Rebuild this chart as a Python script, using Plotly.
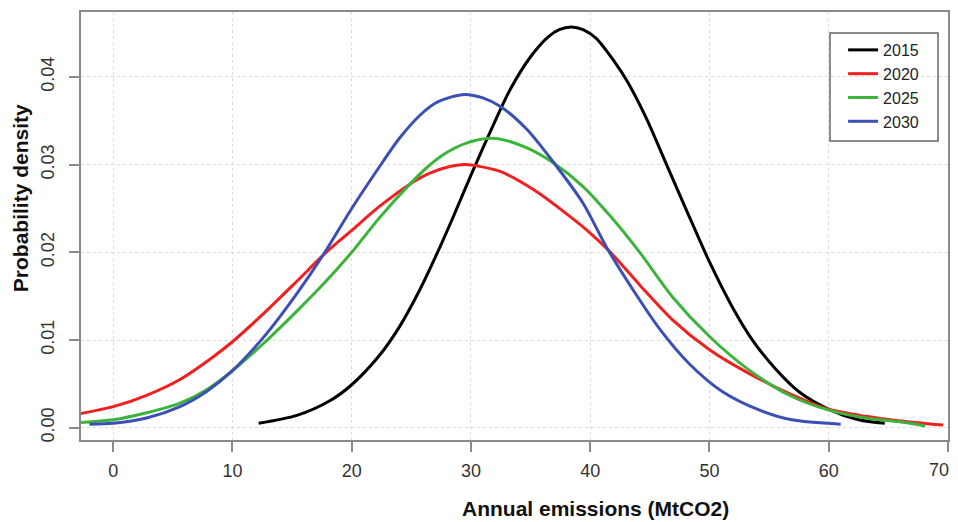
import plotly.graph_objects as go

# ---- data ----
years = ["2015", "2020", "2025", "2030"]
colors = ["#000000", "#f02020", "#3cb43c", "#3b4fb4"]

x_2015 = [12.2, 15.4, 18.2, 20, 22.3, 24, 25.7, 27.1, 28.5, 30, 31.7, 33.3, 35, 36.5, 37.4, 38.4,
          39.4, 40.5, 42, 43.1, 44.7, 46.4, 48.1, 50, 51.9, 53.6, 55.6, 57.5, 60, 62.5, 64.7]
y_2015 = [0.0005, 0.0014, 0.0031, 0.0049, 0.0082, 0.0115, 0.0157, 0.0197, 0.0240, 0.0288, 0.0340,
          0.0386, 0.0423, 0.0446, 0.0454, 0.0457, 0.0454, 0.0444, 0.0418, 0.0395, 0.0353, 0.0300,
          0.0247, 0.0189, 0.0138, 0.0100, 0.0066, 0.0041, 0.0021, 0.0009, 0.0005]

x_2020 = [-2.8, 0, 2.8, 5.6, 8.4, 10, 12.6, 15.4, 17.7, 20, 22.3, 24.9, 26.5, 28, 29.5, 30.7, 32.5,
          35.3, 38.1, 40, 41.7, 44.2, 46.9, 50, 53.3, 56.7, 60, 63.1, 65.8, 69.6]
y_2020 = [0.0016, 0.0024, 0.0037, 0.0055, 0.0081, 0.0098, 0.0130, 0.0167, 0.0198, 0.0225, 0.0252,
          0.0278, 0.0290, 0.0297, 0.0300, 0.0298, 0.0292, 0.0271, 0.0243, 0.0222, 0.0200, 0.0162,
          0.0123, 0.0089, 0.0062, 0.0039, 0.0021, 0.0013, 0.0008, 0.0003]

x_2025 = [-2.8, 0, 2.8, 5.6, 7.8, 10, 12.6, 15.4, 17.7, 20, 22.3, 24.9, 26.5, 28, 29.5, 31.5, 32.5,
          34.7, 36.9, 39.4, 41.7, 44.2, 46.9, 50, 53.3, 56.7, 60, 63.1, 65.8, 68.1]
y_2025 = [0.0006, 0.0009, 0.0017, 0.0028, 0.0043, 0.0065, 0.0096, 0.0133, 0.0165, 0.0200, 0.0239,
          0.0278, 0.0299, 0.0314, 0.0324, 0.0330, 0.0329, 0.0319, 0.0302, 0.0275, 0.0241, 0.0199,
          0.0149, 0.0104, 0.0066, 0.0037, 0.0020, 0.0011, 0.0007, 0.0002]

x_2030 = [-2.0, 0, 2.8, 5.6, 7.8, 10, 12.6, 15.4, 17.7, 20, 22.3, 24, 25.7, 27, 28.3, 29.5, 31,
          32.5, 34.7, 36.9, 39.4, 41.4, 43.6, 45.8, 48.3, 51.1, 54.2, 56.9, 61]
y_2030 = [0.0004, 0.0005, 0.0011, 0.0024, 0.0041, 0.0065, 0.0103, 0.0153, 0.0199, 0.0250, 0.0297,
          0.0330, 0.0356, 0.0370, 0.0377, 0.0380, 0.0376, 0.0366, 0.0340, 0.0303, 0.0256, 0.0205,
          0.0157, 0.0113, 0.0073, 0.0041, 0.0020, 0.0009, 0.0004]

x_ticks = [0, 10, 20, 30, 40, 50, 60, 70]
x_ticklabels = ["0", "10", "20", "30", "40", "50", "60", "70"]
y_ticks = [0.00, 0.01, 0.02, 0.03, 0.04]
y_ticklabels = ["0.00", "0.01", "0.02", "0.03", "0.04"]

series_x = [x_2015, x_2020, x_2025, x_2030]
series_y = [y_2015, y_2020, y_2025, y_2030]

FONT = "Liberation Sans, Arial, sans-serif"
AXC = "#8a8a8a"
TICKFONT = dict(family=FONT, size=18, color="#333333")

fig = go.Figure()
for name, col, xs, ys in zip(years, colors, series_x, series_y):
    fig.add_trace(go.Scatter(x=xs, y=ys, mode="lines", name=name,
                             line=dict(color=col, width=3, shape="spline", smoothing=0.8)))

axis_common = dict(showline=True, mirror=True, linecolor=AXC, linewidth=1.5,
                   ticks="outside", ticklen=10, tickcolor=AXC, tickwidth=1.5,
                   showgrid=True, gridcolor="#dcdcdc", griddash="dot", gridwidth=1,
                   zeroline=False, automargin=False, ticklabeloverflow="allow",
                   tickfont=TICKFONT)

# last x label sits at the very edge of the page; it is drawn as an annotation
# right-anchored so that it is not clipped
fig.update_xaxes(range=[-2.7, 70], tickvals=x_ticks,
                 ticktext=x_ticklabels[:-1] + [""], ticklabelstandoff=4, **axis_common)
fig.update_yaxes(range=[-0.0014, 0.0474], tickvals=y_ticks, ticktext=y_ticklabels,
                 tickangle=-90, ticklabelstandoff=8, **axis_common)

fig.add_annotation(text=x_ticklabels[-1], xref="x", yref="paper", x=x_ticks[-1], y=-0.0701,
                   xanchor="right", yanchor="middle", xshift=3, showarrow=False,
                   font=TICKFONT)

fig.add_annotation(text="<b>Annual emissions (MtCO2)</b>", xref="paper", yref="paper",
                   x=0.594, y=-0.159, xanchor="center", yanchor="middle", showarrow=False,
                   font=dict(family=FONT, size=21, color="#111111"))
fig.add_annotation(text="<b>Probability density</b>", xref="paper", yref="paper",
                   x=-0.0704, y=0.565, xanchor="center", yanchor="middle", showarrow=False,
                   textangle=-90, font=dict(family=FONT, size=21, color="#111111"))

# legend frame
fig.add_shape(type="rect", xref="paper", yref="paper", x0=0.8639, x1=0.9885, y0=0.6986, y1=0.951,
              line=dict(color="#666666", width=1.5), fillcolor="rgba(0,0,0,0)", layer="above")

# The page body has an 8px margin: the figure is sized/offset to compensate.
fig.update_layout(
    width=950, height=514,
    margin=dict(l=73, r=10, t=4, b=82),
    plot_bgcolor="white", paper_bgcolor="white",
    showlegend=True,
    legend=dict(x=0.879, y=0.951, xanchor="left", yanchor="top",
                borderwidth=0, bgcolor="rgba(255,255,255,0)",
                font=dict(family=FONT, size=16, color="#222222"),
                tracegroupgap=0, itemwidth=30),
)

fig.write_html("out.html")
